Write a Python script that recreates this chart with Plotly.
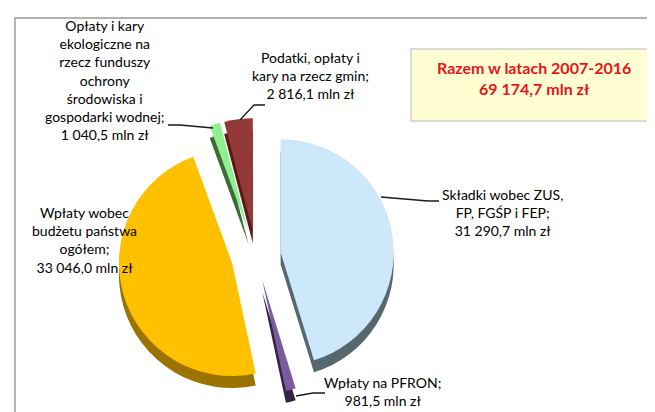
import plotly.graph_objects as go

W, H = 655, 412

labels = [
    "Składki wobec ZUS, FP, FGŚP i FEP",
    "Wpłaty na PFRON",
    "Wpłaty wobec budżetu państwa ogółem",
    "Opłaty i kary ekologiczne na rzecz funduszy ochrony środowiska i gospodarki wodnej",
    "Podatki, opłaty i kary na rzecz gmin",
]
values = [31290.7, 981.5, 33046.0, 1040.5, 2816.1]
top_colors = ["#CDE8FA", "#7A5C9E", "#FFC000", "#8EF08E", "#943A36"]
side_colors = ["#56686E", "#35234A", "#9A7300", "#3C6B36", "#5A1A18"]
label_texts = [
    "Składki wobec ZUS,<br>FP, FGŚP i FEP;<br>31 290,7 mln zł",
    "Wpłaty na PFRON;<br>981,5 mln zł",
    "Wpłaty wobec<br>budżetu państwa<br>ogółem;<br>33 046,0 mln zł",
    "Opłaty i kary<br>ekologiczne na<br>rzecz funduszy<br>ochrony<br>środowiska i<br>gospodarki wodnej;<br>1 040,5 mln zł",
    "Podatki, opłaty i<br>kary na rzecz gmin;<br>2 816,1 mln zł",
]
total_text = "Razem w latach 2007-2016<br>69 174,7 mln zł"


def X(x):
    return x / W


def Y(y):
    return 1 - y / H


cx, cy, half, depth = 248, 248, 138, 12
pull = [0.22] * len(values)

fig = go.Figure()
for dy, cols in ((depth, side_colors), (0, top_colors)):
    fig.add_trace(go.Pie(
        labels=labels, values=values, sort=False, direction="clockwise",
        rotation=0, pull=pull, textinfo="none", hoverinfo="label+value",
        marker=dict(colors=cols, line=dict(width=0)),
        showlegend=False,
        domain=dict(x=[X(cx - half), X(cx + half)],
                    y=[Y(cy + dy + half), Y(cy + dy - half)]),
    ))

font = dict(family="Lato, 'Open Sans', sans-serif", size=14, color="#000000")
label_pos = [(494, 204), (375, 383), (76, 232), (97, 72), (302, 67)]
annotations = []
for (x, y), t in zip(label_pos, label_texts):
    annotations.append(dict(x=X(x), y=Y(y), xref="paper", yref="paper",
                            text=t, showarrow=False, font=font,
                            xanchor="center", yanchor="middle", align="center"))
annotations.append(dict(x=X(526), y=Y(70), xref="paper", yref="paper",
                        text="<b>" + total_text + "</b>", showarrow=False,
                        font=dict(family="Lato, sans-serif", size=16, color="#E8141B"),
                        xanchor="center", yanchor="middle", align="center"))


def path(pts):
    return "M " + " L ".join(f"{X(a)},{Y(b)}" for a, b in pts)


line_style = dict(color="#1a1a1a", width=1.3)
shapes = [
    # outer frame
    dict(type="rect", xref="paper", yref="paper", x0=X(7), y0=Y(430), x1=X(670), y1=Y(10),
         line=dict(color="#9a9a9a", width=1.5), fillcolor="rgba(0,0,0,0)", layer="below"),
    # total box
    dict(type="rect", xref="paper", yref="paper", x0=X(403), y0=Y(113), x1=X(650), y1=Y(41),
         line=dict(color="#cfcfcf", width=1.5), fillcolor="#FFFDD2", layer="below"),
    # leader lines
    dict(type="path", xref="paper", yref="paper", path=path([(431, 193), (420, 193), (373, 189)]), line=line_style),
    dict(type="path", xref="paper", yref="paper", path=path([(317, 385), (305, 385), (288, 388)]), line=line_style),
    dict(type="path", xref="paper", yref="paper", path=path([(160, 117), (172, 117), (205, 120)]), line=line_style),
    dict(type="path", xref="paper", yref="paper", path=path([(257, 97), (246, 97), (232, 112)]), line=line_style),
]

fig.update_layout(
    width=W, height=H, margin=dict(l=0, r=0, t=0, b=0),
    paper_bgcolor="white", plot_bgcolor="white",
    annotations=annotations, shapes=shapes,
)

fig.write_html("out.html")
